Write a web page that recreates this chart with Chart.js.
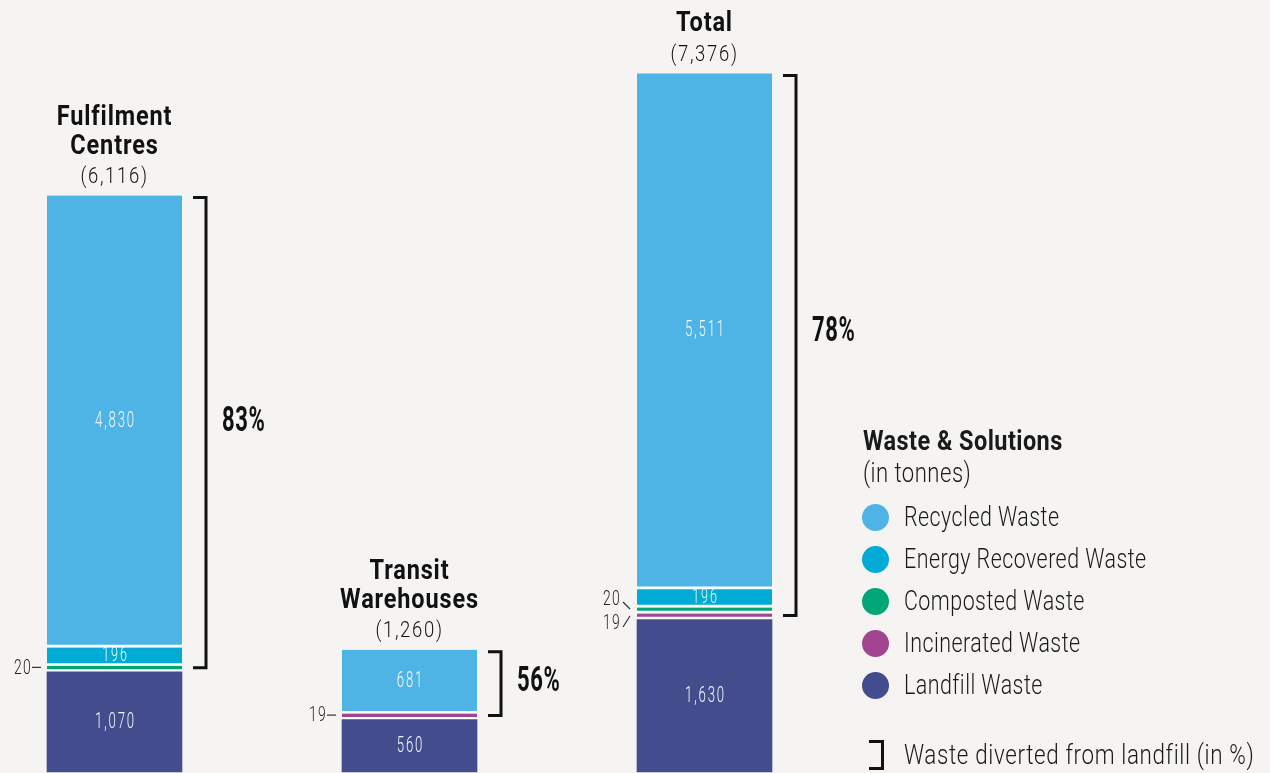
<!DOCTYPE html>
<html>
<head>
<meta charset="utf-8">
<script src="https://cdn.jsdelivr.net/npm/chart.js@4"></script>
<style>
html,body{margin:0;padding:0;background:#f5f4f2;}
#wrap{position:relative;width:1270px;height:773px;overflow:hidden;background:#f5f4f2;}
#chart{position:absolute;left:0;top:0;}
.lg{position:absolute;font-family:Roboto,'DejaVu Sans',sans-serif;color:#1a1a1a;white-space:nowrap;transform-origin:0 50%;}
.dot{position:absolute;width:27px;height:27px;border-radius:50%;}
</style>
</head>
<body>
<div id="wrap">
  <canvas id="chart" width="1270" height="773"></canvas>
  <div id="legend"></div>
</div>
<script>
// ---------- data ----------
const categories = [['Fulfilment', 'Centres'], ['Transit', 'Warehouses'], ['Total']];
// series listed bottom-to-top of the stack
const seriesNames = ['Landfill Waste', 'Incinerated Waste', 'Composted Waste', 'Energy Recovered Waste', 'Recycled Waste'];
const seriesColors = ['#434c8c', '#a2448f', '#00a676', '#00acd5', '#4eb4e6'];
const landfill        = [1070, 560, 1630];
const incinerated     = [null, 19, 19];
const composted       = [20, null, 20];
const energyRecovered = [196, null, 196];
const recycled        = [4830, 681, 5511];
const seriesData = [landfill, incinerated, composted, energyRecovered, recycled];
const legendTitle = 'Waste & Solutions';
const legendSubtitle = '(in tonnes)';
const bracketNote = 'Waste diverted from landfill (in %)';

// ---------- helpers ----------
const FONT = "Roboto,'DejaVu Sans',sans-serif";
const fmt = v => v.toLocaleString('en-US');
const totals = categories.map((_, i) => seriesData.reduce((s, arr) => s + (arr[i] || 0), 0));

function drawText(ctx, str, x, y, o) {
  ctx.save();
  ctx.font = o.font;
  ctx.letterSpacing = (o.ls || 0) + 'px';
  ctx.textAlign = o.align || 'center';
  ctx.textBaseline = 'middle';
  ctx.fillStyle = o.color || '#111';
  ctx.translate(x, y);
  ctx.scale(o.sx || 1, 1);
  ctx.fillText(str, 0, 0);
  ctx.restore();
}

const labelPlugin = {
  id: 'wasteLabels',
  afterDatasetsDraw(chart) {
    const ctx = chart.ctx;
    ctx.save();
    categories.forEach((lines, i) => {
      const segs = [];
      chart.data.datasets.forEach((ds, d) => {
        const v = ds.data[i];
        if (v === null || v === undefined) return;
        const el = chart.getDatasetMeta(d).data[i];
        const top = Math.min(el.y, el.base), bottom = Math.max(el.y, el.base);
        const gap = d === 0 ? 0 : 3;
        segs.push({ d, v, top, bottom, cy: (top + bottom - gap) / 2, h: bottom - top - gap, x: el.x, w: el.width });
      });
      if (!segs.length) return;
      const x = segs[0].x, w = segs[0].w, left = x - w / 2, right = x + w / 2;
      const topSeg = segs[segs.length - 1];
      const barTop = topSeg.top;
      const landTop = segs[0].top;

      // values inside larger segments
      segs.forEach(s => {
        if (s.h >= 14) {
          drawText(ctx, fmt(s.v), x + 1, s.cy + 1, {
            font: '300 ' + (s.h < 30 ? 21 : 22) + 'px ' + FONT, ls: 3, sx: 0.6, color: '#f4f8fc'
          });
        }
      });

      // small segments labelled on the left
      const small = segs.filter(s => s.h < 14).sort((a, b) => a.cy - b.cy);
      ctx.strokeStyle = '#333';
      ctx.lineWidth = 1.2;
      const smallOpt = { font: '300 21px ' + FONT, ls: 2, sx: 0.66, align: 'right', color: '#222' };
      if (small.length === 1) {
        const s = small[0];
        drawText(ctx, fmt(s.v), left - 15, s.cy + 1, smallOpt);
        ctx.beginPath(); ctx.moveTo(left - 15, s.cy); ctx.lineTo(left - 6, s.cy); ctx.stroke();
      } else if (small.length === 2) {
        const [a, b] = small;
        const ya = a.cy - 9, yb = b.cy + 9;
        drawText(ctx, fmt(a.v), left - 16, ya, smallOpt);
        drawText(ctx, fmt(b.v), left - 16, yb, smallOpt);
        ctx.beginPath(); ctx.moveTo(left - 14, ya + 2); ctx.lineTo(left - 7, a.cy); ctx.stroke();
        ctx.beginPath(); ctx.moveTo(left - 14, yb + 3); ctx.lineTo(left - 7, b.cy + 1); ctx.stroke();
      }

      // bracket for diverted share
      const bx0 = right + 11, bx1 = right + 24;
      const by0 = barTop + 2, by1 = landTop - 4;
      ctx.strokeStyle = '#111';
      ctx.lineWidth = 3;
      ctx.beginPath();
      ctx.moveTo(bx0, by0); ctx.lineTo(bx1, by0); ctx.lineTo(bx1, by1); ctx.lineTo(bx0, by1);
      ctx.stroke();
      const pct = Math.round((totals[i] - landfill[i]) / totals[i] * 100);
      drawText(ctx, pct + '%', bx1 + 16, topSeg.cy + 2, {
        font: 'bold 35px ' + FONT, ls: 1, sx: 0.63, align: 'left', color: '#111'
      });

      // category title + total
      drawText(ctx, '(' + fmt(totals[i]) + ')', x, barTop - 18, {
        font: '300 22px ' + FONT, ls: 2, sx: 0.84, color: '#111'
      });
      lines.forEach((ln, k) => {
        drawText(ctx, ln, x, barTop - 49 - 29 * (lines.length - 1 - k), {
          font: 'bold 28px ' + FONT, ls: 1, sx: 0.84, color: '#111'
        });
      });
    });
    ctx.restore();
  }
};

new Chart(document.getElementById('chart'), {
  type: 'bar',
  data: {
    labels: categories.map(c => c.join(' ')),
    datasets: seriesNames.map((name, k) => ({
      label: name,
      data: seriesData[k],
      backgroundColor: seriesColors[k],
      borderColor: '#ffffff',
      borderWidth: k === 0 ? 0 : { top: 0, left: 0, right: 0, bottom: 3 },
      borderSkipped: false,
      minBarLength: 6,
      barThickness: 135,
      clip: false
    }))
  },
  options: {
    responsive: false,
    animation: false,
    layout: { padding: { left: 114.5, right: 565.5, top: 0, bottom: 1 } },
    scales: {
      x: { stacked: true, display: false, offset: false },
      y: { stacked: true, display: false, min: 0, max: 8250 }
    },
    plugins: { legend: { display: false }, tooltip: { enabled: false } }
  },
  plugins: [labelPlugin]
});

// ---------- HTML legend ----------
const lg = document.getElementById('legend');
let html = '';
html += `<div class="lg" style="left:863px;top:426px;font-size:27px;font-weight:bold;line-height:30px;letter-spacing:0.5px;transform:scaleX(0.87)">${legendTitle.replace('&','&amp;')}</div>`;
html += `<div class="lg" style="left:863px;top:457px;font-size:28px;font-weight:300;line-height:32px;letter-spacing:0.6px;transform:scaleX(0.79)">${legendSubtitle}</div>`;
const order = seriesNames.map((_, k) => k).reverse();
order.forEach((k, j) => {
  const cy = 517 + 42 * j;
  html += `<div class="dot" style="left:862px;top:${cy - 13.5}px;background:${seriesColors[k]}"></div>`;
  html += `<div class="lg" style="left:904px;top:${cy - 16}px;font-size:28px;font-weight:300;line-height:32px;letter-spacing:0.6px;transform:scaleX(0.765)">${seriesNames[k]}</div>`;
});
html += `<div style="position:absolute;left:869px;top:740px;width:12px;height:24px;border-top:3px solid #111;border-right:3px solid #111;border-bottom:3px solid #111"></div>`;
html += `<div class="lg" style="left:904px;top:739px;font-size:28px;font-weight:300;line-height:32px;letter-spacing:0.8px;transform:scaleX(0.8)">${bracketNote}</div>`;
lg.innerHTML = html;
</script>
</body>
</html>
